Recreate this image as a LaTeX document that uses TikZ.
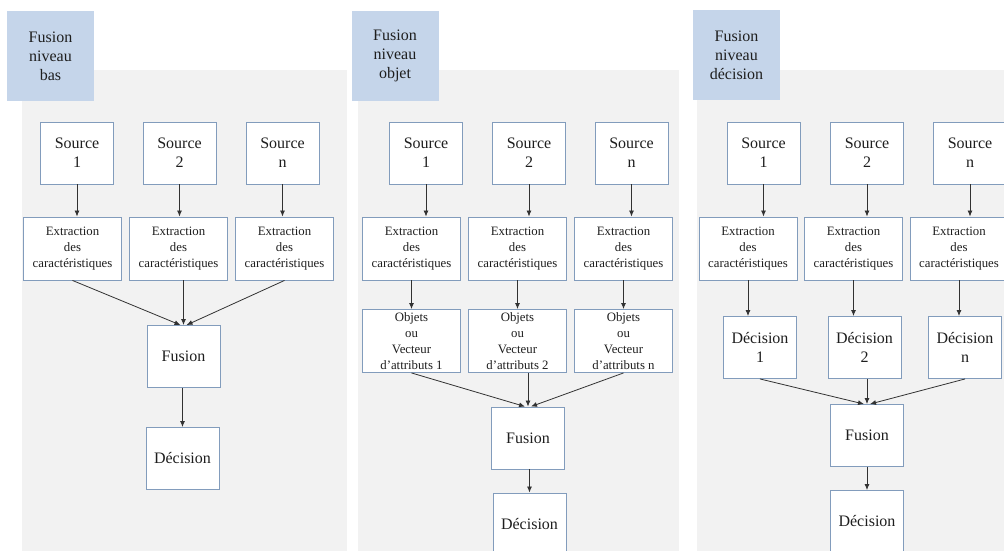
\documentclass[tikz,border=0pt]{standalone}
\usepackage{fontspec}
\setmainfont{Liberation Serif}
\usetikzlibrary{arrows.meta}
\definecolor{boxline}{RGB}{130,156,188}
\definecolor{titlefill}{RGB}{197,213,234}
\definecolor{panelgray}{RGB}{242,242,242}
\definecolor{inkc}{RGB}{30,30,30}
\definecolor{arrowc}{RGB}{50,50,50}
\begin{document}
\begin{tikzpicture}[x=1pt,y=-1pt,box/.style={shape=rectangle,draw=boxline,fill=white,line width=0.9pt,align=center,inner sep=0pt,minimum width=73pt,minimum height=62pt,text=inkc,font=\fontsize{16}{19}\selectfont},boxX/.style={box,minimum width=98pt,minimum height=63pt,font=\fontsize{12.8}{15.8}\selectfont},title/.style={box,draw=none,fill=titlefill,minimum width=87pt,minimum height=89pt},arr/.style={draw=arrowc,line width=0.8pt,-{Latex[length=6pt,width=5pt]}}]
\def\ys{153};
\def\ye{248.5};

\useasboundingbox (0,0) rectangle (1004,551);
\clip (0,0) rectangle (1004,551);

% niveau bas
\fill[panelgray] (22,70) rectangle (347,560);
\node[title] (T1) at (50.5,56) {Fusion\\niveau\\bas};
\node[box] (S1a) at (77,\ys) {Source\\1};
\node[box] (S2a) at (179.5,\ys) {Source\\2};
\node[box] (S3a) at (282.5,\ys) {Source\\n};
\node[boxX] (E1a) at (72.5,\ye) {Extraction\\des\\caractéristiques};
\node[boxX] (E2a) at (178.5,\ye) {Extraction\\des\\caractéristiques};
\node[boxX] (E3a) at (284.5,\ye) {Extraction\\des\\caractéristiques};
\node[box] (Fa) at (183.5,356.5) {Fusion};
\node[box] (Da) at (182.5,458.5) {Décision};
\draw[arr] (S1a.south) -- (S1a.south |- E1a.north);
\draw[arr] (S2a.south) -- (S2a.south |- E2a.north);
\draw[arr] (S3a.south) -- (S3a.south |- E3a.north);
\draw[arr] (E1a.south) -- ([xshift=-3pt]Fa.north);
\draw[arr] (E2a.south -| Fa.north) -- (Fa.north);
\draw[arr] (E3a.south) -- ([xshift=3pt]Fa.north);
\draw[arr] (Da.north |- Fa.south) -- (Da.north);

% niveau objet
\fill[panelgray] (358,70) rectangle (679,560);
\node[title] (T2) at (395,56) {Fusion\\niveau\\objet};
\node[box] (S1b) at (426,\ys) {Source\\1};
\node[box] (S2b) at (529,\ys) {Source\\2};
\node[box] (S3b) at (631.5,\ys) {Source\\n};
\node[boxX] (E1b) at (411.5,\ye) {Extraction\\des\\caractéristiques};
\node[boxX] (E2b) at (517.5,\ye) {Extraction\\des\\caractéristiques};
\node[boxX] (E3b) at (623.5,\ye) {Extraction\\des\\caractéristiques};
\node[boxX] (O1b) at (411.5,341) {Objets\\ou\\Vecteur\\d’attributs 1};
\node[boxX] (O2b) at (517.5,341) {Objets\\ou\\Vecteur\\d’attributs 2};
\node[boxX] (O3b) at (623.5,341) {Objets\\ou\\Vecteur\\d’attributs n};
\node[box] (Fb) at (528,438) {Fusion};
\node[box] (Db) at (529.5,524) {Décision};
\draw[arr] (S1b.south) -- (S1b.south |- E1b.north);
\draw[arr] (S2b.south) -- (S2b.south |- E2b.north);
\draw[arr] (S3b.south) -- (S3b.south |- E3b.north);
\draw[arr] (E1b.south) -- (O1b.north);
\draw[arr] (E2b.south) -- (O2b.north);
\draw[arr] (E3b.south) -- (O3b.north);
\draw[arr] (O1b.south) -- ([xshift=-3pt]Fb.north);
\draw[arr] (O2b.south -| Fb.north) -- (Fb.north);
\draw[arr] (O3b.south) -- ([xshift=3pt]Fb.north);
\draw[arr] (Db.north |- Fb.south) -- (Db.north);

% niveau décision
\fill[panelgray] (697,70) rectangle (1010,560);
\node[title] (T3) at (736.5,55) {Fusion\\niveau\\décision};
\node[box] (S1c) at (763.5,\ys) {Source\\1};
\node[box] (S2c) at (867,\ys) {Source\\2};
\node[box] (S3c) at (970,\ys) {Source\\n};
\node[boxX] (E1c) at (748,\ye) {Extraction\\des\\caractéristiques};
\node[boxX] (E2c) at (853.5,\ye) {Extraction\\des\\caractéristiques};
\node[boxX] (E3c) at (959,\ye) {Extraction\\des\\caractéristiques};
\node[box] (D1c) at (760,347.5) {Décision\\1};
\node[box] (D2c) at (864.5,347.5) {Décision\\2};
\node[box] (D3c) at (965,347.5) {Décision\\n};
\node[box] (Fc) at (867,435.5) {Fusion};
\node[box] (Dc) at (867,521.5) {Décision};
\draw[arr] (S1c.south) -- (S1c.south |- E1c.north);
\draw[arr] (S2c.south) -- (S2c.south |- E2c.north);
\draw[arr] (S3c.south) -- (S3c.south |- E3c.north);
\draw[arr] (E1c.south) -- (E1c.south |- D1c.north);
\draw[arr] (E2c.south) -- (E2c.south |- D2c.north);
\draw[arr] (E3c.south) -- (E3c.south |- D3c.north);
\draw[arr] (D1c.south) -- ([xshift=-3pt]Fc.north);
\draw[arr] (D2c.south -| Fc.north) -- (Fc.north);
\draw[arr] (D3c.south) -- ([xshift=3pt]Fc.north);
\draw[arr] (Dc.north |- Fc.south) -- (Dc.north);

\end{tikzpicture}
\end{document}
